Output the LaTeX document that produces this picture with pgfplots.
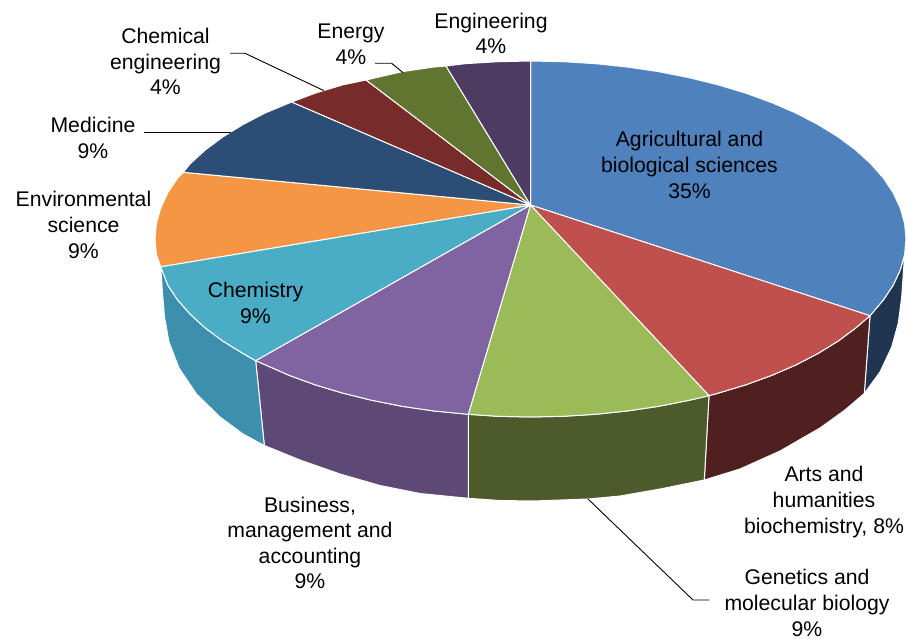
\documentclass[border=0pt]{standalone}
\usepackage{pgfplots}
\pgfplotsset{compat=1.18}
\usepackage{fontspec}
\setmainfont{Liberation Sans}
\definecolor{cAgri}{HTML}{4F81BD}
\definecolor{cArts}{HTML}{C0504D}
\definecolor{cGene}{HTML}{9BBB59}
\definecolor{cBusi}{HTML}{8064A2}
\definecolor{cChem}{HTML}{4BACC6}
\definecolor{cEnvi}{HTML}{F59644}
\definecolor{cMedi}{HTML}{2C4D75}
\definecolor{cChen}{HTML}{772C2A}
\definecolor{cEner}{HTML}{5F7530}
\definecolor{cEngi}{HTML}{4D3B62}
\definecolor{wAgri}{HTML}{1F3550}
\definecolor{wArts}{HTML}{4F201F}
\definecolor{wGene}{HTML}{4C5A2C}
\definecolor{wBusi}{HTML}{5E4876}
\definecolor{wChem}{HTML}{3C8FAD}
\tikzset{lab/.style={align=center,font=\fontsize{21.2}{25.6}\selectfont,text=black,inner sep=0pt}}
\pgfplotsset{wedge/.style={fill=#1,draw=white,line width=1pt,line join=round}}
\begin{document}
\begin{tikzpicture}
\begin{axis}[
    scale only axis,
    width=906pt,
    height=639pt,
    xmin=0, xmax=906,
    ymin=0, ymax=639,
    y dir=reverse,
    hide axis,
    clip=false,
]
% hidden axis adds nothing to the page size
\path[use as bounding box] (axis cs:0,0) rectangle (axis cs:906,639);

% side walls
\addplot[wedge=wAgri] coordinates {
    (870,315.7) (883.4,299.9) (893.2,285.1) (900.3,269.9) (904.6,254.5)
    (904,263) (901.7,297) (898.3,323) (891.7,347) (880,372) (864.3,393.5)
} --cycle;
\addplot[wedge=wArts] coordinates {
    (870,315.7) (855.7,328) (838.1,341.1) (818.1,353.4) (796,364.9) (771.9,375.3)
    (745.9,384.8) (718.3,393.1) (709,395.7)
    (704.3,480) (740,469) (780,451) (820,428) (845,410) (864.3,393.5)
} --cycle;
\addplot[wedge=wGene] coordinates {
    (709,395.7) (689.2,400.3) (658.9,406.3) (627.7,410.9) (595.7,414.3) (563.2,416.3)
    (530.5,417) (497.8,416.3) (468.3,414.3)
    (468.3,498.3) (500,500.5) (533,501) (588,499) (620,496) (660,489) (704.3,480)
} --cycle;
\addplot[wedge=wBusi] coordinates {
    (468.3,414.3) (433.3,410.9) (402.1,406.3) (371.8,400.3) (342.7,393.1) (315.1,384.8)
    (289.1,375.3) (265.7,365) (255.7,360.7)
    (264.3,445.5) (300,460) (340,474) (380,485.5) (420,493.5) (468.3,498.3)
} --cycle;
\addplot[wedge=wChem] coordinates {
    (255.7,360.7) (242.9,353.4) (222.9,341.1) (205.3,328) (190.2,314.2) (177.6,299.9)
    (167.8,285.1) (160.7,266.7)
    (162.5,293) (164.5,317) (169,342) (179,368) (196.5,394) (220,417) (243,434) (264.3,445.5)
} --cycle;

% top face
\addplot[wedge=cAgri] coordinates {
    (530.5,205) (530.5,61) (563.2,61.7) (595.7,63.7) (627.7,67.1) (658.9,71.7) (689.2,77.7)
    (718.3,84.9) (745.9,93.2) (771.9,102.7) (796,113.1) (818.1,124.6) (838.1,136.9)
    (855.7,150) (870.8,163.8) (883.4,178.1) (893.2,192.9) (900.3,208.1) (904.6,223.5)
    (906,239) (904.6,254.5) (900.3,269.9) (893.2,285.1) (883.4,299.9) (870,315.7)
} --cycle;
\addplot[wedge=cArts] coordinates {
    (530.5,205) (870,315.7) (855.7,328) (838.1,341.1) (818.1,353.4) (796,364.9)
    (771.9,375.3) (745.9,384.8) (718.3,393.1) (709,395.7)
} --cycle;
\addplot[wedge=cGene] coordinates {
    (530.5,205) (709,395.7) (689.2,400.3) (658.9,406.3) (627.7,410.9) (595.7,414.3)
    (563.2,416.3) (530.5,417) (497.8,416.3) (468.3,414.3)
} --cycle;
\addplot[wedge=cBusi] coordinates {
    (530.5,205) (468.3,414.3) (433.3,410.9) (402.1,406.3) (371.8,400.3) (342.7,393.1)
    (315.1,384.8) (289.1,375.3) (265.7,365) (255.7,360.7)
} --cycle;
\addplot[wedge=cChem] coordinates {
    (530.5,205) (255.7,360.7) (242.9,353.4) (222.9,341.1) (205.3,328) (190.2,314.2)
    (177.6,299.9) (167.8,285.1) (160.7,266.7)
} --cycle;
\addplot[wedge=cEnvi] coordinates {
    (530.5,205) (160.7,266.7) (156.4,254.5) (155,239) (156.4,223.5) (160.7,208.1)
    (167.8,192.9) (177.6,178.1) (183.3,172.3)
} --cycle;
\addplot[wedge=cMedi] coordinates {
    (530.5,205) (183.3,172.3) (190.2,163.8) (205.3,150) (222.9,136.9) (242.9,124.6)
    (265,113.1) (291.7,102)
} --cycle;
\addplot[wedge=cChen] coordinates {
    (530.5,205) (291.7,102) (315.1,93.2) (342.7,84.9) (366,80)
} --cycle;
\addplot[wedge=cEner] coordinates {
    (530.5,205) (366,80) (402.1,71.7) (433.3,67.1) (446,66)
} --cycle;
\addplot[wedge=cEngi] coordinates {
    (530.5,205) (446,66) (465.3,63.7) (497.8,61.7) (530.5,61)
} --cycle;

% leader lines
\addplot[black,line width=0.9pt] coordinates {(144,132) (230.7,132)};
\addplot[black,line width=0.9pt] coordinates {(230,53.3) (245,53.3) (324,90.7)};
\addplot[black,line width=0.9pt] coordinates {(375,63.3) (391.7,63.3) (403,72.7)};
\addplot[black,line width=0.9pt] coordinates {(588,499) (693,600) (709.3,600)};

% labels
\node[lab] at (axis cs:689.5,165) {Agricultural and\\biological sciences\\35\%};
\node[lab] at (axis cs:824,502) {Arts and\\humanities\\biochemistry, 8\%};
\node[lab] at (axis cs:807,603) {Genetics and\\molecular biology\\9\%};
\node[lab] at (axis cs:310,543) {Business,\\management and\\accounting\\9\%};
\node[lab] at (axis cs:255.5,303) {Chemistry\\9\%};
\node[lab] at (axis cs:83.5,225) {Environmental\\science\\9\%};
\node[lab] at (axis cs:93,138) {Medicine\\9\%};
\node[lab] at (axis cs:165.5,61.5) {Chemical\\engineering\\4\%};
\node[lab] at (axis cs:351,44) {Energy\\4\%};
\node[lab] at (axis cs:491,33.5) {Engineering\\4\%};
\end{axis}
\end{tikzpicture}
\end{document}
